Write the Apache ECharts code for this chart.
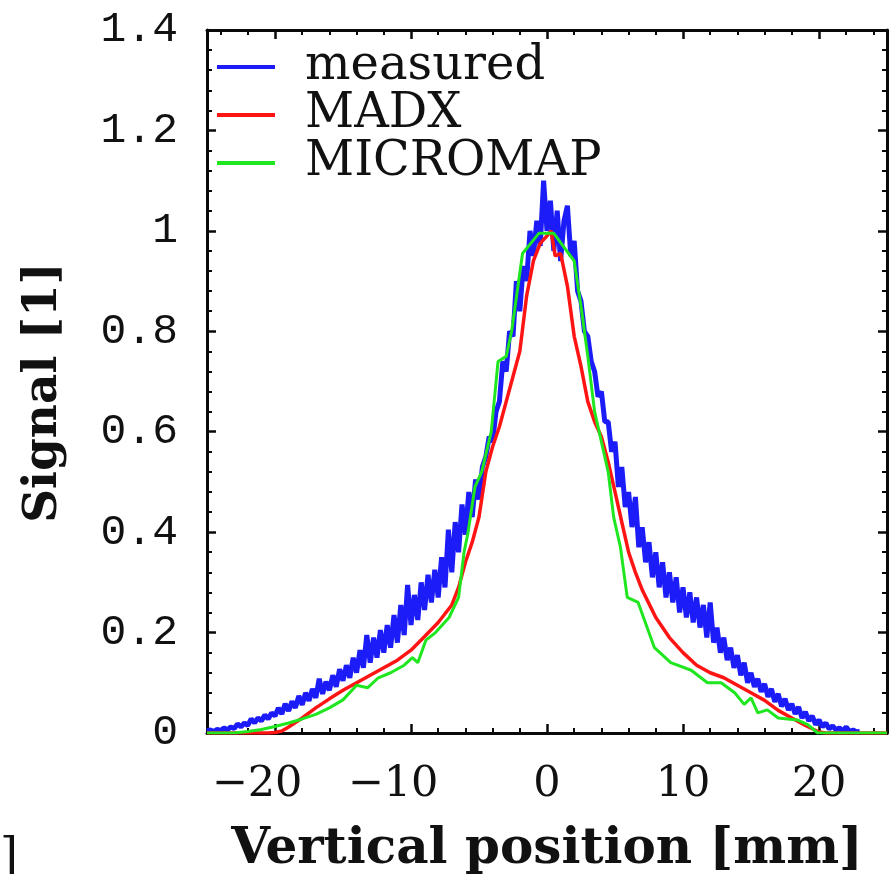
<!DOCTYPE html>
<html>
<head>
<meta charset="utf-8">
<script src="https://cdn.jsdelivr.net/npm/echarts@6/dist/echarts.min.js"></script>
<style>
  html, body { margin: 0; padding: 0; background: #fff; }
  #chart { width: 889px; height: 874px; }
</style>
</head>
<body>
<div id="chart"></div>
<script>
// Beam profile: measured signal vs. MADX and MICROMAP simulations
const seriesNames = ['measured', 'MADX', 'MICROMAP'];
const seriesColors = ['#1c1cf8', '#ff1414', '#20e620'];

// measured signal, sampled every 0.25 mm starting at -25 mm
const measuredStart = -25;
const measuredStep = 0.25;
const measuredSignal = [
  0.004, 0.006, 0.003, 0.007, 0.005, 0.010, 0.006, 0.012, 0.009, 0.018, 0.012, 0.020, 0.015, 0.028, 0.020, 0.030, 0.024, 0.036, 0.028, 0.040, 0.034,
  0.050, 0.038, 0.058, 0.044, 0.063, 0.050, 0.074, 0.056, 0.080, 0.064, 0.088, 0.070, 0.108, 0.078, 0.102, 0.085, 0.115, 0.092, 0.127, 0.104,
  0.135, 0.110, 0.150, 0.120, 0.165, 0.130, 0.195, 0.140, 0.190, 0.150, 0.205, 0.160, 0.215, 0.170, 0.235, 0.180, 0.255, 0.195, 0.295, 0.215,
  0.275, 0.225, 0.300, 0.245, 0.315, 0.260, 0.325, 0.270, 0.350, 0.290, 0.405, 0.320, 0.420, 0.360, 0.455, 0.395, 0.480, 0.430, 0.505, 0.465,
  0.530, 0.550, 0.590, 0.580, 0.640, 0.660, 0.740, 0.720, 0.800, 0.790, 0.900, 0.840, 0.930, 0.900, 1.000, 0.950, 1.020, 0.970, 1.100, 1.000,
  1.060, 0.960, 1.040, 0.940, 1.020, 1.050, 0.950, 0.980, 0.880, 0.860, 0.800, 0.790, 0.740, 0.720, 0.670, 0.680, 0.620, 0.620, 0.560, 0.580,
  0.490, 0.530, 0.450, 0.480, 0.410, 0.470, 0.370, 0.410, 0.340, 0.380, 0.310, 0.360, 0.290, 0.340, 0.270, 0.320, 0.260, 0.310, 0.240, 0.290,
  0.230, 0.280, 0.220, 0.270, 0.210, 0.255, 0.190, 0.260, 0.180, 0.210, 0.160, 0.190, 0.145, 0.170, 0.130, 0.155, 0.115, 0.140, 0.100, 0.120,
  0.092, 0.108, 0.082, 0.098, 0.072, 0.088, 0.062, 0.078, 0.053, 0.068, 0.046, 0.058, 0.038, 0.052, 0.030, 0.042, 0.024, 0.034, 0.017, 0.026,
  0.012, 0.020, 0.008, 0.014, 0.006, 0.010, 0.004, 0.012, 0.003, 0.006, 0.002, 0.003
];

// MADX simulation [position mm, signal]
const madxPos = [-25, -20.5, -20, -19.5, -19, -18, -17, -16, -15, -14, -13, -12, -11, -10, -9, -8, -7, -6.5, -6, -5.5, -5, -4.5, -4, -3.5, -3, -2.5, -2, -1.5, -1, -0.5, 0, 0.3, 0.6, 1.0, 1.5, 2, 2.5, 3, 3.5, 4, 4.5, 5, 5.5, 6, 6.5, 7, 8, 9, 10, 11, 12, 13, 14, 15, 16, 17, 18, 19, 20, 20.5, 25];
const madxSignal = [0, 0, 0.001, 0.004, 0.012, 0.03, 0.05, 0.068, 0.085, 0.10, 0.115, 0.13, 0.145, 0.165, 0.192, 0.22, 0.255, 0.29, 0.34, 0.38, 0.43, 0.52, 0.57, 0.61, 0.66, 0.71, 0.76, 0.87, 0.94, 0.975, 0.99, 1.0, 0.95, 0.955, 0.89, 0.79, 0.73, 0.66, 0.62, 0.59, 0.54, 0.48, 0.42, 0.36, 0.32, 0.285, 0.23, 0.19, 0.16, 0.135, 0.12, 0.11, 0.095, 0.08, 0.065, 0.045, 0.03, 0.015, 0.002, 0, 0];

// MICROMAP simulation [position mm, signal]
const micromapPos = [-25, -23, -22, -21, -20, -19, -18, -17, -16, -15, -14, -13.2, -12.4, -11.5, -10.5, -9.9, -9.5, -8.9, -8.2, -7.2, -6.5, -6.1, -5.8, -5.3, -4.8, -4.1, -3.6, -3.0, -2.6, -1.8, -0.6, 0.5, 2.0, 2.5, 3.0, 3.5, 4.5, 4.9, 5.4, 5.9, 6.7, 7.9, 9.1, 10.6, 11.8, 12.8, 13.8, 14.5, 15, 15.5, 16.2, 17, 18.4, 19.2, 19.9, 25];
const micromapSignal = [0, 0, 0.003, 0.007, 0.013, 0.02, 0.028, 0.037, 0.05, 0.066, 0.095, 0.09, 0.11, 0.12, 0.135, 0.15, 0.14, 0.185, 0.20, 0.23, 0.27, 0.36, 0.40, 0.49, 0.52, 0.60, 0.74, 0.75, 0.80, 0.955, 0.995, 0.995, 0.94, 0.85, 0.75, 0.64, 0.52, 0.43, 0.37, 0.27, 0.26, 0.17, 0.14, 0.125, 0.10, 0.10, 0.08, 0.057, 0.07, 0.04, 0.046, 0.03, 0.026, 0.016, 0, 0];

// axis tick labels
const yTickLabels = ['0', '0.2', '0.4', '0.6', '0.8', '1', '1.2', '1.4'];
const xTickValues = [-20, -10, 0, 10, 20];

const measuredData = measuredSignal.map((v, i) => [measuredStart + i * measuredStep, v]);
const madxData = madxPos.map((x, i) => [x, madxSignal[i]]);
const micromapData = micromapPos.map((x, i) => [x, micromapSignal[i]]);

const serif = '"DejaVu Serif", serif';
const frameColor = '#0a0a0a';

function frameAxisCommon() {
  return {
    axisLine: { show: true, onZero: false, lineStyle: { color: frameColor, width: 3 } },
    axisTick: { show: true, inside: true, length: 9, lineStyle: { color: frameColor, width: 2.5 } },
    minorTick: { show: true, splitNumber: 5, length: 5, lineStyle: { color: frameColor, width: 2 } },
    splitLine: { show: false }
  };
}

const chart = echarts.init(document.getElementById('chart'));
chart.setOption({
  animation: false,
  backgroundColor: '#ffffff',
  grid: { left: 207, right: 2, top: 30, bottom: 141, containLabel: false, outerBoundsMode: 'none' },
  legend: {
    data: seriesNames,
    orient: 'vertical',
    left: 217,
    top: 43,
    padding: 0,
    itemGap: 0,
    itemWidth: 58,
    itemHeight: 4,
    icon: 'rect',
    textStyle: {
      fontFamily: serif,
      fontSize: 48,
      color: '#111',
      lineHeight: 48,
      padding: [0, 0, 0, 25]
    }
  },
  xAxis: [
    Object.assign(frameAxisCommon(), {
      type: 'value',
      min: -25,
      max: 25,
      position: 'bottom',
      name: 'Vertical position [mm]',
      nameLocation: 'middle',
      nameGap: 92,
      nameTextStyle: { fontFamily: serif, fontWeight: 'bold', fontSize: 50, color: '#111' },
      axisLabel: {
        margin: 30,
        color: '#111',
        formatter: function (v) {
          if (xTickValues.indexOf(v) < 0) return '';
          return v < 0 ? '{n|\u2212' + Math.abs(v) + '}{p|}' : '{n|' + v + '}';
        },
        rich: {
          n: { fontFamily: serif, fontSize: 43, color: '#111' },
          p: { width: 36 }
        }
      }
    }),
    Object.assign(frameAxisCommon(), {
      type: 'value',
      min: -25,
      max: 25,
      position: 'top',
      axisLabel: { show: false }
    })
  ],
  yAxis: [
    Object.assign(frameAxisCommon(), {
      type: 'value',
      min: 0,
      max: 1.4,
      interval: 0.2,
      position: 'left',
      name: 'Signal [1]',
      nameLocation: 'middle',
      nameRotate: 90,
      nameGap: 120,
      nameTextStyle: { fontFamily: serif, fontWeight: 'bold', fontSize: 47, color: '#111', padding: [0, 22, 20, 0] },
      axisLabel: {
        margin: 29,
        color: '#111',
        fontFamily: '"Liberation Mono", monospace',
        fontSize: 43,
        formatter: function (v) { return yTickLabels[Math.round(v / 0.2)]; }
      }
    }),
    Object.assign(frameAxisCommon(), {
      type: 'value',
      min: 0,
      max: 1.4,
      interval: 0.2,
      position: 'right',
      axisLabel: { show: false }
    })
  ],
  graphic: [
    { type: 'text', left: 0, top: 836, style: { text: ']', font: '46px "DejaVu Serif"', fill: '#111' } }
  ],
  series: [
    {
      name: seriesNames[0], type: 'line', data: measuredData, showSymbol: false,
      lineStyle: { color: seriesColors[0], width: 5 }, itemStyle: { color: seriesColors[0] }, z: 2
    },
    {
      name: seriesNames[1], type: 'line', data: madxData, showSymbol: false,
      lineStyle: { color: seriesColors[1], width: 3.5 }, itemStyle: { color: seriesColors[1] }, z: 3
    },
    {
      name: seriesNames[2], type: 'line', data: micromapData, showSymbol: false,
      lineStyle: { color: seriesColors[2], width: 3 }, itemStyle: { color: seriesColors[2] }, z: 4
    }
  ]
});
</script>
</body>
</html>
